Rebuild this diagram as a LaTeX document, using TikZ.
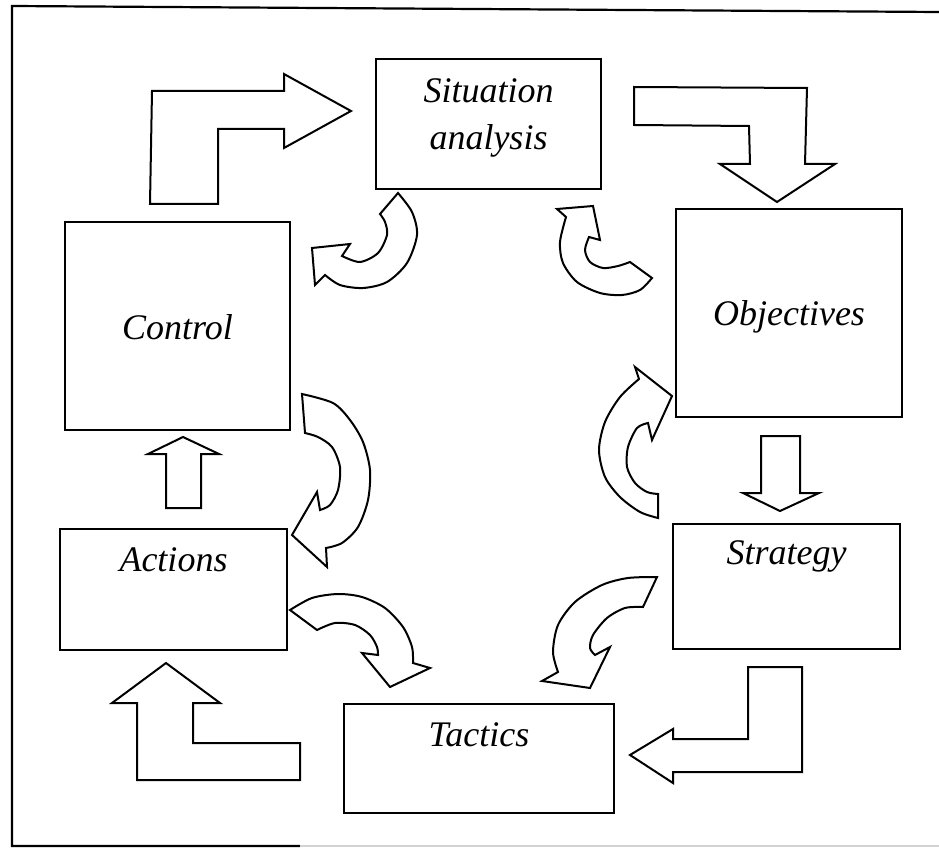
\documentclass[tikz,border=0pt]{standalone}
\usepackage{fontspec}
\setmainfont{Liberation Serif}

\begin{document}
\begin{tikzpicture}[x=1pt,y=-1pt,
  stage/.style={draw, line width=2.2pt},
  lbl/.style={font=\itshape\fontsize{36}{47}\selectfont, inner sep=0pt},
  blockarrow/.style={draw, line width=2pt, fill=white}]
\useasboundingbox (0,0) rectangle (939,850);

% frame
\draw[line width=2.2pt] (939,12) -- (12,6) -- (12,846) -- (300,846);
\draw[gray!35, line width=1.2pt] (300,846) -- (939,846);

% boxes
\node[stage, minimum width=225, minimum height=130] (sit) at (488.5,124) {};
\node[stage, minimum width=226, minimum height=208] (obj) at (789,313) {};
\node[stage, minimum width=227, minimum height=125] (str) at (786.5,586.5) {};
\node[stage, minimum width=270, minimum height=109] (tac) at (479,758.5) {};
\node[stage, minimum width=227, minimum height=121] (act) at (173.5,589.5) {};
\node[stage, minimum width=225, minimum height=208] (ctl) at (177.5,326) {};

\node[lbl, align=center] at (488.5,118) {Situation\\analysis};
\node[lbl, anchor=base] at ([yshift=-12pt]obj.center) {Objectives};
\node[lbl, anchor=base] at ([yshift=-42pt]str.north) {Strategy};
\node[lbl, anchor=base] at ([yshift=-44pt]tac.north) {Tactics};
\node[lbl, anchor=base] at ([yshift=-44pt]act.north) {Actions};
\node[lbl, anchor=base] at ([yshift=-13pt]ctl.center) {Control};

% bent and straight arrows
\draw[blockarrow] (150,204) -- (218,204) -- (218,129) -- (284,129) -- (284,148)
  -- (351,111) -- (284,74) -- (284,91) -- (152,91) -- cycle;
\draw[blockarrow] (634,87) -- (807,88) -- (805,164) -- (835,164) -- (777,202)
  -- (720,164) -- (750,164) -- (749,126) -- (634,125) -- cycle;
\draw[blockarrow] (761,436) -- (800,436) -- (800,493) -- (819,493) -- (780,511)
  -- (743,493) -- (761,493) -- cycle;
\draw[blockarrow] (748,667) -- (802,667) -- (802,772) -- (673,772) -- (673,783)
  -- (630,755) -- (673,729) -- (673,739) -- (748,739) -- cycle;
\draw[blockarrow] (300,743) -- (300,780) -- (137,780) -- (137,703) -- (112,703)
  -- (166,663) -- (220,703) -- (193,703) -- (193,743) -- cycle;
\draw[blockarrow] (166,508) -- (201,508) -- (201,454) -- (219,454) -- (183,437)
  -- (148,454) -- (166,454) -- cycle;

% curved arrows
\draw[blockarrow] plot[smooth] coordinates {(398,193) (412,212) (417,235) (407,263)
  (387,282) (363,288) (340,285) (325,275)} -- (315,285) -- (312,248) -- (350,244)
  -- (342,256) -- plot[smooth] coordinates {(342,256) (360,262) (378,253) (387,235)
  (385,222) (380,214)} -- cycle;
\draw[blockarrow] plot[smooth] coordinates {(652,278) (640,290) (622,295) (600,293)
  (577,282) (563,263) (560,242) (566,217)} -- (557,209) -- (593,206) -- (600,240)
  -- (589,237) -- plot[smooth] coordinates {(589,237) (585,250) (590,262) (603,268)
  (618,266) (630,262)} -- cycle;
\draw[blockarrow] plot[smooth] coordinates {(658,518) (640,512) (620,497) (605,477)
  (599,450) (605,422) (620,397) (639,379)} -- (635,367) -- (672,396) -- (652,440)
  -- (648,423) -- plot[smooth] coordinates {(648,423) (637,428) (628,447) (627,467)
  (635,483) (647,492) (658,494)} -- cycle;
\draw[blockarrow] plot[smooth] coordinates {(326,548) (342,543) (358,527) (368,500)
  (370,470) (363,442) (350,420) (333,403) (302,394)} -- (305,433)
  -- plot[smooth] coordinates {(305,433) (318,437) (332,447) (340,467) (338,490)
  (330,505) (320,510)} -- (317,492) -- (292,535) -- (327,567) -- cycle;
\draw[blockarrow] plot[smooth] coordinates {(290,610) (312,598) (338,594) (362,597)
  (385,608) (403,627) (412,647) (413,663)} -- (430,668) -- (390,687) -- (362,653)
  -- (378,655) -- plot[smooth] coordinates {(378,655) (377,647) (370,635) (355,625)
  (335,623) (317,630)} -- cycle;
\draw[blockarrow] plot[smooth] coordinates {(657,577) (628,578) (602,585) (575,602)
  (558,625) (553,652) (558,672)} -- (542,681) -- (590,688) -- (610,647) -- (595,655)
  -- plot[smooth] coordinates {(595,655) (590,648) (593,635) (607,618) (625,608)
  (643,607)} -- cycle;
\end{tikzpicture}
\end{document}
